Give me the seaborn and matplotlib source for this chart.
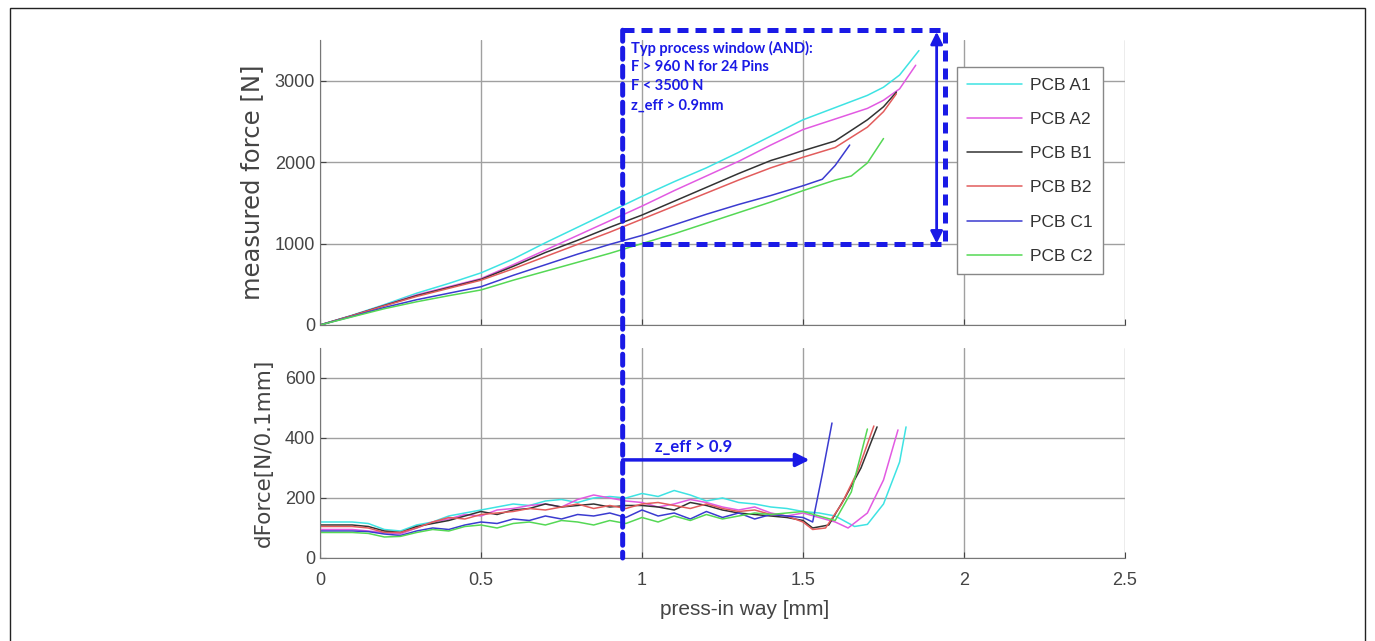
import numpy as np
import pandas as pd
import seaborn as sns
import matplotlib.pyplot as plt
from matplotlib.patches import ConnectionPatch, Rectangle

# sample names and colours
names = ['PCB A1', 'PCB A2', 'PCB B1', 'PCB B2', 'PCB C1', 'PCB C2']
colors = ['#3ee3e3', '#e25ae2', '#333333', '#e25c5c', '#3b3bd0', '#55d855']

# measured force [N] vs press-in way [mm]
f_x = {
    'PCB A1': [0, .1, .2, .3, .4, .5, .6, .7, .8, .9, 1.0, 1.1, 1.2, 1.3, 1.4, 1.5, 1.6, 1.7, 1.75, 1.8, 1.86],
    'PCB A2': [0, .1, .2, .3, .4, .5, .6, .7, .8, .9, 1.0, 1.1, 1.2, 1.3, 1.4, 1.5, 1.6, 1.7, 1.75, 1.8, 1.85],
    'PCB B1': [0, .1, .2, .3, .4, .5, .6, .7, .8, .9, 1.0, 1.1, 1.2, 1.3, 1.4, 1.5, 1.6, 1.7, 1.75, 1.79],
    'PCB B2': [0, .1, .2, .3, .4, .5, .6, .7, .8, .9, 1.0, 1.1, 1.2, 1.3, 1.4, 1.5, 1.6, 1.7, 1.75, 1.79],
    'PCB C1': [0, .1, .2, .3, .4, .5, .6, .7, .8, .9, 1.0, 1.1, 1.2, 1.3, 1.4, 1.5, 1.56, 1.6, 1.645],
    'PCB C2': [0, .1, .2, .3, .4, .5, .6, .7, .8, .9, 1.0, 1.1, 1.2, 1.3, 1.4, 1.5, 1.6, 1.65, 1.7, 1.75],
}
f_y = {
    'PCB A1': [0, 120, 250, 390, 510, 640, 810, 1010, 1200, 1390, 1580, 1760, 1930, 2120, 2320, 2520, 2670, 2820, 2920, 3070, 3370],
    'PCB A2': [0, 115, 240, 370, 470, 570, 740, 920, 1100, 1280, 1460, 1650, 1830, 2010, 2210, 2400, 2530, 2660, 2760, 2900, 3190],
    'PCB B1': [0, 115, 240, 360, 460, 560, 720, 890, 1040, 1200, 1350, 1520, 1690, 1860, 2020, 2140, 2260, 2520, 2680, 2860],
    'PCB B2': [0, 115, 235, 350, 450, 550, 690, 840, 990, 1140, 1300, 1460, 1620, 1780, 1930, 2060, 2180, 2430, 2620, 2840],
    'PCB C1': [0, 105, 215, 310, 390, 470, 610, 740, 870, 990, 1100, 1230, 1360, 1480, 1590, 1710, 1790, 1960, 2210],
    'PCB C2': [0, 100, 200, 285, 360, 430, 550, 660, 770, 880, 1000, 1120, 1250, 1380, 1510, 1650, 1780, 1830, 1990, 2290],
}

# dForce [N/0.1mm]
d_base_x = [0, .05, .1, .15, .2, .25, .3, .35, .4, .45, .5, .55, .6, .65, .7, .75, .8, .85, .9, .95,
            1.0, 1.05, 1.1, 1.15, 1.2, 1.25, 1.3, 1.35, 1.4, 1.45, 1.5]
d_tail_x = {
    'PCB A1': [1.55, 1.6, 1.66, 1.7, 1.75, 1.8, 1.82],
    'PCB A2': [1.55, 1.6, 1.64, 1.7, 1.75, 1.795],
    'PCB B1': [1.53, 1.58, 1.63, 1.68, 1.73],
    'PCB B2': [1.53, 1.57, 1.62, 1.67, 1.72],
    'PCB C1': [1.53, 1.56, 1.59],
    'PCB C2': [1.55, 1.6, 1.65, 1.7],
}
d_y = {
    'PCB A1': [120, 120, 120, 115, 95, 90, 110, 120, 140, 150, 160, 170, 180, 175, 190, 195, 185, 200, 205, 200,
               215, 205, 225, 210, 190, 200, 185, 180, 170, 165, 155,
               150, 140, 105, 112, 180, 320, 437],
    'PCB A2': [95, 95, 95, 90, 85, 80, 100, 120, 130, 145, 140, 160, 165, 175, 180, 170, 195, 210, 200, 190,
               185, 170, 180, 195, 185, 170, 160, 170, 150, 140, 150,
               135, 120, 100, 150, 260, 427],
    'PCB B1': [110, 110, 110, 105, 90, 85, 105, 115, 125, 140, 155, 145, 160, 165, 180, 170, 175, 180, 170, 175,
               175, 170, 160, 185, 175, 160, 150, 145, 140, 135, 125,
               100, 110, 200, 300, 437],
    'PCB B2': [105, 105, 105, 100, 85, 85, 100, 120, 135, 130, 145, 150, 155, 165, 160, 170, 180, 165, 175, 165,
               180, 185, 175, 165, 180, 165, 155, 160, 145, 140, 120,
               95, 100, 180, 290, 440],
    'PCB C1': [90, 90, 90, 88, 80, 75, 90, 100, 95, 110, 120, 115, 130, 125, 140, 130, 145, 140, 150, 135,
               160, 140, 150, 130, 155, 135, 150, 130, 145, 140, 135,
               120, 280, 450],
    'PCB C2': [85, 85, 85, 82, 70, 72, 85, 95, 90, 105, 110, 100, 115, 120, 110, 125, 120, 110, 125, 115,
               135, 120, 140, 125, 145, 130, 140, 150, 145, 150, 155,
               140, 125, 220, 430],
}

rows_f = []
rows_d = []
for n in names:
    for x, y in zip(f_x[n], f_y[n]):
        rows_f.append((n, x, y))
    for x, y in zip(d_base_x + d_tail_x[n], d_y[n]):
        rows_d.append((n, x, y))
df_f = pd.DataFrame(rows_f, columns=['name', 'way', 'force'])
df_d = pd.DataFrame(rows_d, columns=['name', 'way', 'dforce'])

sns.set_style('white')
plt.rcParams['font.family'] = ['Liberation Sans', 'DejaVu Sans']
pal = dict(zip(names, colors))
tick_col = '#444444'
grid_col = '#a0a0a0'

fig = plt.figure(figsize=(13.75, 6.41), dpi=100)
ax1 = fig.add_axes([0.2327, 0.493, 0.5855, 0.4446])
ax2 = fig.add_axes([0.2327, 0.1295, 0.5855, 0.3276])

sns.lineplot(data=df_f, x='way', y='force', hue='name', palette=pal, estimator=None,
             sort=False, lw=1.1, ax=ax1)
sns.lineplot(data=df_d, x='way', y='dforce', hue='name', palette=pal, estimator=None,
             sort=False, lw=1.1, ax=ax2, legend=False)

for ax in (ax1, ax2):
    ax.set_xlim(0, 2.5)
    ax.set_xticks([0, 0.5, 1, 1.5, 2, 2.5])
    ax.grid(True, color=grid_col, lw=1.0)
    ax.set_axisbelow(True)
    for s in ['top', 'right']:
        ax.spines[s].set_visible(False)
    for s in ['left', 'bottom']:
        ax.spines[s].set_color('#777777')
    ax.tick_params(colors=tick_col, labelsize=13, length=4, direction='in', left=True, bottom=True)

ax1.set_ylim(0, 3500)
ax1.set_yticks([0, 1000, 2000, 3000])
ax1.set_xticklabels([])
ax1.set_xlabel('')
ax1.set_ylabel('measured force [N]', fontsize=17.5, color=tick_col, labelpad=8,
               family=['DejaVu Sans'])

ax2.set_ylim(0, 700)
ax2.set_yticks([0, 200, 400, 600])
ax2.set_xticklabels(['0', '0.5', '1', '1.5', '2', '2.5'])
ax2.tick_params(axis='x', pad=10)
ax2.set_xlabel('press-in way [mm]', fontsize=15, color=tick_col)
ax2.xaxis.set_label_coords(0.528, -0.2)
ax2.set_ylabel('dForce[N/0.1mm]', fontsize=15.5, color=tick_col, labelpad=8,
               family=['DejaVu Sans'])

leg = ax1.legend(loc='upper left', bbox_to_anchor=(0.791, 0.905), borderaxespad=0,
                 fontsize=12.5, handlelength=3.15, labelspacing=1.1, borderpad=0.6,
                 handletextpad=0.46, fancybox=False, framealpha=1, edgecolor='#888888')
for t in leg.get_texts():
    t.set_color('#333333')

# process window annotations
blue = '#1a1ae6'
dash = (0, (2.2, 1.4))
ax1.plot([0.94, 1.94, 1.94, 0.94], [3620, 3620, 1000, 1000], color=blue, lw=3.6,
         ls=dash, clip_on=False, zorder=5)
con = ConnectionPatch(xyA=(0.94, 3620), coordsA=ax1.transData,
                      xyB=(0.94, 0), coordsB=ax2.transData,
                      color=blue, lw=3.6, linestyle=dash, zorder=5)
fig.add_artist(con)
ax1.annotate('', xy=(1.915, 3600), xytext=(1.915, 1000),
             arrowprops=dict(arrowstyle='<|-|>', color=blue, lw=2, mutation_scale=18,
                             shrinkA=0, shrinkB=0), annotation_clip=False)
txt = ['Typ process window (AND):', 'F > 960 N for 24 Pins', 'F < 3500 N', 'z_eff > 0.9mm']
for i, t in enumerate(txt):
    ax1.text(0.965, 3400 - i * 235, t, color=blue, fontsize=10.5, fontweight='bold',
             family=['Lato', 'DejaVu Sans'], va='center', ha='left')

ax2.annotate('', xy=(1.52, 327), xytext=(0.94, 327),
             arrowprops=dict(arrowstyle='-|>', color=blue, lw=2.5, mutation_scale=20,
                             shrinkA=0, shrinkB=0))
ax2.text(1.04, 371, 'z_eff > 0.9', color=blue, fontsize=12, fontweight='bold',
         family=['Lato', 'DejaVu Sans'], va='center', ha='left')

# outer frame
fig.patches.append(Rectangle((10 / 1375, -0.05), 1355 / 1375, 1.05 - 8 / 641,
                             transform=fig.transFigure, fill=False, edgecolor='#222222', lw=1))

fig.savefig('out.png', dpi=100)
